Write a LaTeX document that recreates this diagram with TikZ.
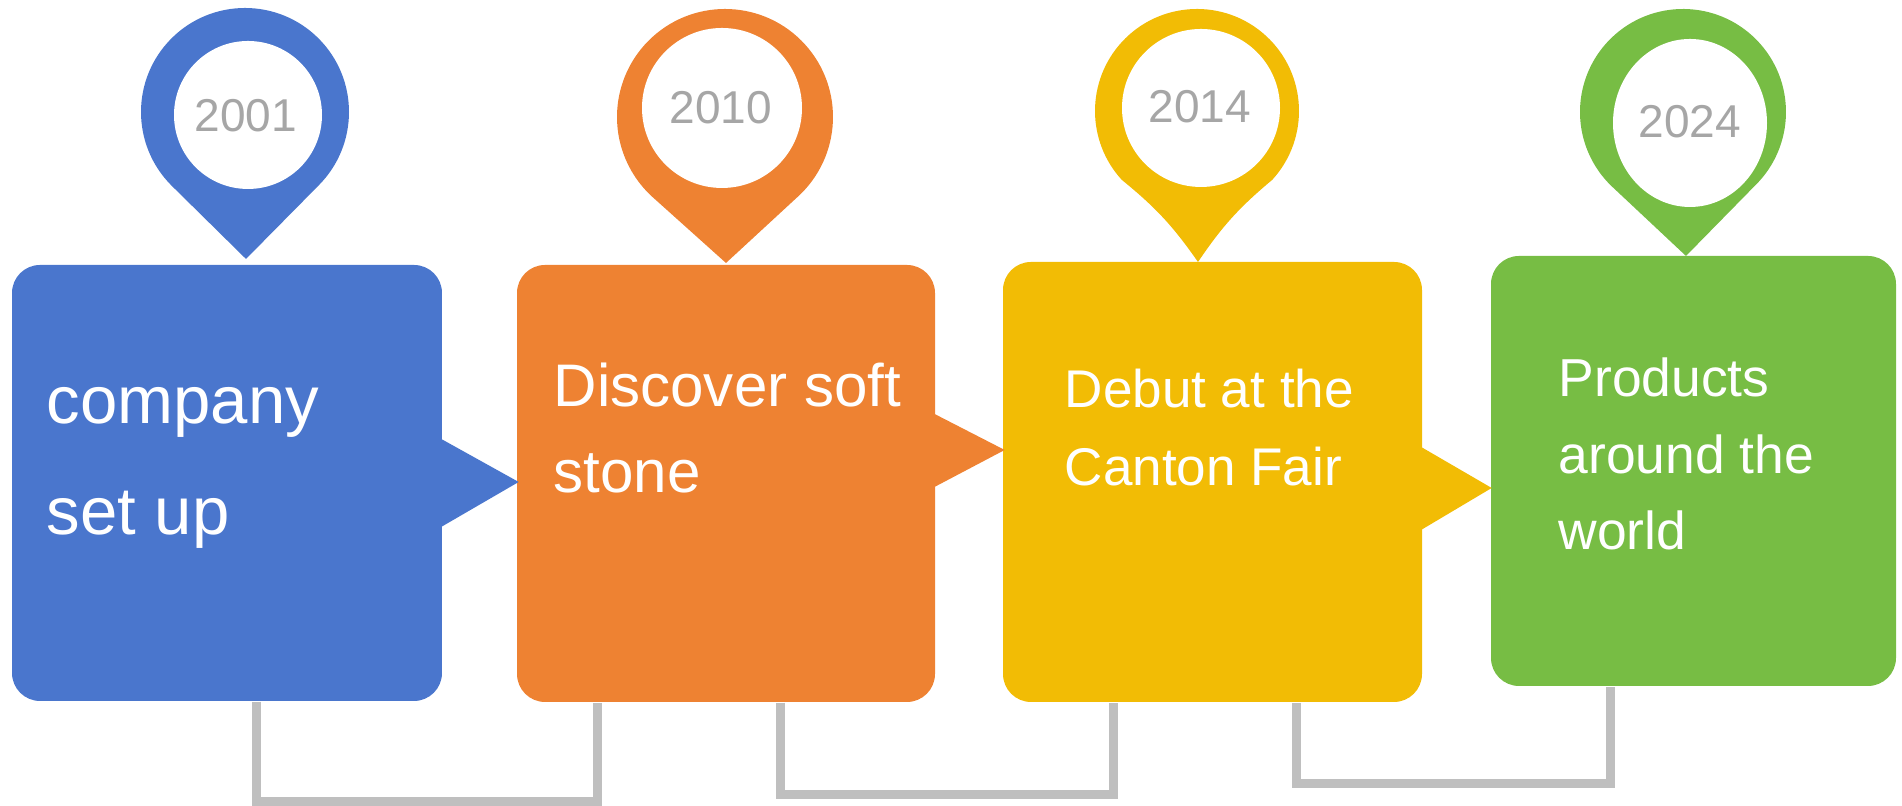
\documentclass[tikz,border=0pt]{standalone}
\usepackage{fontspec}
\setmainfont{Liberation Sans}
\definecolor{cblue}{HTML}{4A76CD}
\definecolor{corange}{HTML}{EE8232}
\definecolor{cyellow}{HTML}{F2BC05}
\definecolor{cgreen}{HTML}{77BD44}
\definecolor{clink}{HTML}{BFBFBF}
\definecolor{cyear}{HTML}{A6A6A6}

\begin{document}
\begin{tikzpicture}[x=0.1mm, y=0.1mm,
    card/.style={rectangle, rounded corners=2.8mm, inner sep=0pt},
    year/.style={text=cyear, font=\fontsize{13.1}{15}\selectfont, inner sep=0pt},
    cardtext/.style={text=white, anchor=base west, align=left, inner sep=0pt},
    link/.style={draw=clink, line width=0.9mm}]
    \useasboundingbox (0,0) rectangle (1902,806);

    % cards
    \node[card, fill=cblue, minimum width=43mm, minimum height=43.6mm] (c2001) at (227,323) {};
    \node[card, fill=corange, minimum width=41.8mm, minimum height=43.7mm] (c2010) at (726,322.5) {};
    \node[card, fill=cyellow, minimum width=41.9mm, minimum height=44mm] (c2014) at (1212.5,324) {};
    \node[card, fill=cgreen, minimum width=40.5mm, minimum height=43mm] (c2024) at (1693.5,335) {};

    % arrow tips between the cards
    \fill[cblue] (c2001.east) ++(-5,46) -- ++(81,-45) -- ++(-81,-47) -- cycle;
    \fill[corange] (c2010.east) ++(-5,71.5) -- ++(74,-38) -- ++(-74,-39) -- cycle;
    \fill[cyellow] (c2014.east) ++(-5,37) -- ++(74,-43) -- ++(-74,-44) -- cycle;

    % grey links below the cards
    \draw[link] ([xshift=2.9mm]c2001.south) -- ++(0,-100) -| ([xshift=-12.9mm]c2010.south);
    \draw[link] ([xshift=5.4mm]c2010.south) -- ++(0,-92) -| ([xshift=-9.95mm]c2014.south);
    \draw[link] ([xshift=8.35mm]c2014.south) -- ++(0,-81) -| ([xshift=-8.35mm]c2024.south);

    % location pins
    \fill[cblue] (245,694) ++(-45:104) arc[start angle=-45, end angle=225, radius=104] -- (246,547) -- cycle;
    \fill[white] (248,691) circle[radius=74];
    \node[year] (y2001) at (246,690) {2001};

    \fill[corange] (725,689) ++(-47.7:108) arc[start angle=-47.7, end angle=227.7, radius=108] -- (726,543) -- cycle;
    \fill[white] (722,698) circle[radius=80];
    \node[year] (y2010) at (721,698) {2010};

    \fill[cyellow] (1198,544) to[bend left=8] ([shift={(-42.5:102)}]1197,695) arc[start angle=-42.5, end angle=222.5, radius=102] to[bend left=8] (1198,544) -- cycle;
    \fill[white] (1201,698) circle[radius=79];
    \node[year] (y2014) at (1200,699) {2014};

    \fill[cgreen] (1683,694) ++(-45.7:103) arc[start angle=-45.7, end angle=225.7, radius=103] -- (1686,550) -- cycle;
    \fill[white] (1690,683) ellipse[x radius=77, y radius=84];
    \node[year] (y2024) at (1690,684) {2024};

    % card texts (base = last line)
    \node[cardtext, font=\fontsize{19.1}{31.6}\selectfont] (t2001) at (46,271) {company\\set up};
    \node[cardtext, font=\fontsize{17.1}{24.5}\selectfont] (t2010) at (553,313) {Discover soft\\stone};
    \node[cardtext, font=\fontsize{15.1}{22.3}\selectfont] (t2014) at (1064,320) {Debut at the\\Canton Fair};
    \node[cardtext, font=\fontsize{15.2}{21.8}\selectfont] (t2024) at (1558,256) {Products\\around the\\world};
\end{tikzpicture}
\end{document}
